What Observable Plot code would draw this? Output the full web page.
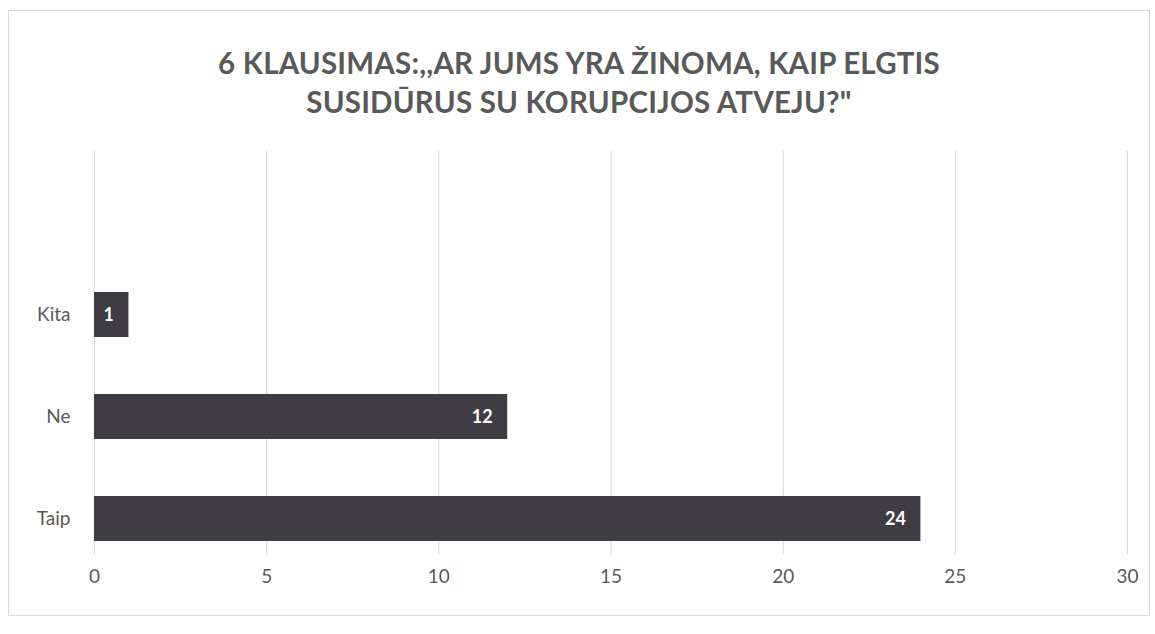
<!DOCTYPE html>
<html>
<head>
<meta charset="utf-8">
<script src="https://cdn.jsdelivr.net/npm/d3@7"></script>
<script src="https://cdn.jsdelivr.net/npm/@observablehq/plot@0.6"></script>
<style>
  html, body { margin: 0; padding: 0; background: #fff; }
  #box {
    position: absolute; left: 8px; top: 10px; width: 1142px; height: 606px;
    border: 1px solid #d9d9d9; box-sizing: border-box; background: #fff;
  }
  #title {
    margin: 0; padding-top: 32px; height: 88px;
    text-align: center; font-family: Lato, "Open Sans", sans-serif;
    font-weight: bold; font-size: 29.5px; line-height: 39px; color: #595959;
    letter-spacing: 0.2px;
  }
  #chart { position: absolute; left: 0; top: 120px; }
</style>
</head>
<body>
<div id="box">
  <div id="title">6 KLAUSIMAS:,,AR JUMS YRA ŽINOMA, KAIP ELGTIS<br>SUSIDŪRUS SU KORUPCIJOS ATVEJU?"</div>
  <div id="chart"></div>
</div>
<script>
const categories = ["Kita", "Ne", "Taip"];
const values = [1, 12, 24];
const xTicks = [0, 5, 10, 15, 20, 25, 30];

const data = categories.map((c, i) => ({category: c, value: values[i]}));

const plot = Plot.plot({
  width: 1140,
  height: 484,
  marginLeft: 85,
  marginRight: 22,
  marginTop: 20,
  marginBottom: 60,
  style: {fontFamily: "Lato, 'Open Sans', sans-serif", fontSize: "19px", color: "#595959", background: "transparent"},
  x: {domain: [0, 30], ticks: xTicks, tickSize: 0, label: null, grid: false},
  y: {domain: categories, range: [103, 468], padding: 0.56, align: 0.5, tickSize: 0, label: null},
  marks: [
    Plot.gridX(xTicks, {stroke: "#d9d9d9", strokeOpacity: 1, strokeWidth: 1}),
    Plot.barX(data, {x: "value", y: "category", fill: "#403c44"}),
    Plot.text(data, {x: "value", y: "category", text: d => String(d.value), textAnchor: "end", dx: -15, fill: "white", fontWeight: "bold", fontSize: 18}),
    Plot.axisX({ticks: xTicks, tickSize: 0, tickPadding: 14, fontSize: 19, fill: "#595959"}),
    Plot.axisY({tickSize: 0, tickPadding: 24, fontSize: 19, fill: "#595959"})
  ]
});
document.getElementById("chart").appendChild(plot);
</script>
</body>
</html>
